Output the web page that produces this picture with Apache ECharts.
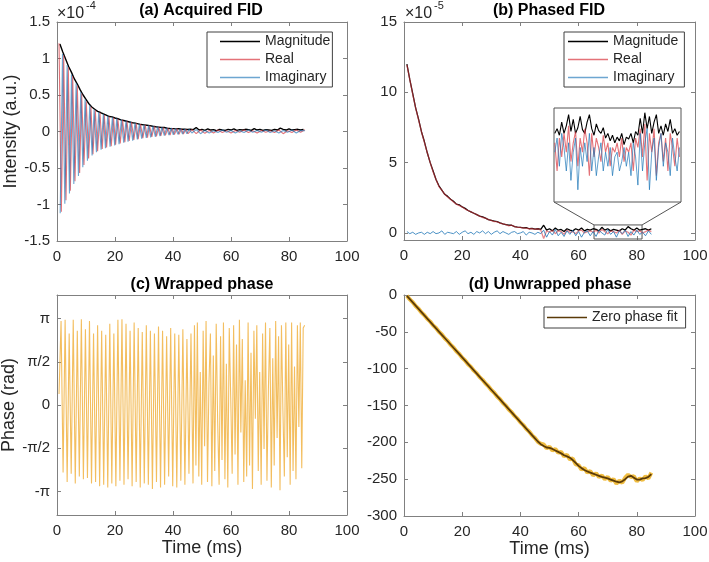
<!DOCTYPE html>
<html>
<head>
<meta charset="utf-8">
<script src="https://cdn.jsdelivr.net/npm/echarts@6/dist/echarts.min.js"></script>
<style>
  html, body { margin: 0; padding: 0; background: #fff; }
  #chart { width: 709px; height: 562px; }
</style>
</head>
<body>
<div id="chart"></div>
<script>
// signal values are in units of 1e-5 a.u., time in ms
// (a) acquired FID: real / imaginary peaks and troughs
const timeReA = [0.7, 1.5, 2.3, 3.1, 3.9, 4.6, 5.4, 6.2, 7.0, 7.8,
  8.5, 9.3, 10.1, 10.9, 11.7, 12.4, 13.2, 14.0, 14.8, 15.6,
  16.3, 17.1, 17.9, 18.7, 19.5, 20.2, 21.0, 21.8, 22.6, 23.4,
  24.1, 24.9, 25.7, 26.5, 27.3, 28.0, 28.8, 29.6, 30.4, 31.2,
  31.9, 32.7, 33.5, 34.3, 35.1, 35.8, 36.6, 37.4, 38.2, 39.0,
  39.7, 40.5, 41.3, 42.1, 42.9, 43.6, 44.4, 45.2];
const realA = [12.1, -11.0, 10.4, -9.4, 8.8, -8.1, 7.6, -6.8, 6.3, -5.7,
  5.2, -4.6, 4.1, -3.7, 3.4, -3.1, 2.9, -2.7, 2.6, -2.4,
  2.3, -2.2, 2.1, -2.0, 1.9, -1.8, 1.75, -1.65, 1.6, -1.45,
  1.45, -1.3, 1.3, -1.15, 1.15, -1.05, 1.0, -0.9, 0.9, -0.85,
  0.8, -0.75, 0.72, -0.68, 0.65, -0.6, 0.57, -0.52, 0.5, -0.48,
  0.45, -0.43, 0.4, -0.38, 0.36, -0.34, 0.32, -0.3];
const timeImA = [1.1, 1.9, 2.7, 3.5, 4.3, 5.0, 5.8, 6.6, 7.4, 8.2,
  8.9, 9.7, 10.5, 11.3, 12.1, 12.8, 13.6, 14.4, 15.2, 16.0,
  16.7, 17.5, 18.3, 19.1, 19.9, 20.6, 21.4, 22.2, 23.0, 23.8,
  24.5, 25.3, 26.1, 26.9, 27.7, 28.4, 29.2, 30.0, 30.8, 31.6,
  32.3, 33.1, 33.9, 34.7, 35.5, 36.2, 37.0, 37.8, 38.6, 39.4,
  40.1, 40.9, 41.7, 42.5, 43.3, 44.0, 44.8, 45.6];
const imagA = [-11.2, 10.6, -9.9, 9.1, -8.5, 7.8, -7.2, 6.6, -6.1, 5.4,
  -4.9, 4.4, -4.0, 3.6, -3.3, 3.0, -2.85, 2.65, -2.5, 2.4,
  -2.3, 2.15, -2.1, 1.95, -1.9, 1.8, -1.75, 1.65, -1.55, 1.5,
  -1.4, 1.35, -1.25, 1.2, -1.1, 1.05, -0.98, 0.92, -0.88, 0.84,
  -0.8, 0.76, -0.72, 0.68, -0.64, 0.6, -0.56, 0.54, -0.5, 0.48,
  -0.45, 0.42, -0.4, 0.38, -0.36, 0.34, -0.32, 0.3];
const timeTailA = [46.5, 48, 49.5, 51, 52.5, 54, 55.5, 57, 58.5, 60,
  61.5, 63, 64.5, 66, 67.5, 69, 70.5, 72, 73.5, 75,
  76.5, 78, 79.5, 81, 82.5, 84, 85.5];
const realTailA = [0.25, -0.3, 0.2, -0.25, 0.15, -0.2, 0.2, -0.15, 0.1, -0.2,
  0.15, -0.1, 0.2, -0.15, 0.1, -0.2, 0.15, -0.1, 0.1, -0.15,
  0.2, -0.3, 0.1, -0.15, 0.2, -0.1, 0.25];
const imagTailA = [-0.2, 0.25, -0.3, 0.15, -0.2, 0.1, -0.15, 0.2, -0.1, 0.15,
  -0.2, 0.1, -0.15, 0.2, -0.1, 0.15, -0.1, 0.2, -0.15, 0.1,
  -0.2, 0.15, -0.1, 0.2, -0.2, 0.15, 0.1];

// magnitude (used in a and b), phased real and imaginary (b)
const timeB = [1, 2, 3, 4, 5, 6, 7, 8, 9, 10,
  11, 12, 13, 14, 15, 16, 17, 18, 19, 20,
  21, 22, 23, 24, 25, 26, 27, 28, 29, 30,
  31, 32, 33, 34, 35, 36, 37, 38, 39, 40,
  41, 42, 43, 44, 45, 46, 47, 48, 49, 50,
  51, 52, 53, 54, 55, 56, 57, 58, 59, 60,
  61, 62, 63, 64, 65, 66, 67, 68, 69, 70,
  71, 72, 73, 74, 75, 76, 77, 78, 79, 80,
  81, 82, 83, 84, 85];
const magnitude = [12.0, 10.9, 9.9, 8.9, 8.1, 7.2, 6.5, 5.7, 5.0, 4.4,
  3.8, 3.35, 3.05, 2.75, 2.6, 2.4, 2.25, 2.05, 2.0, 1.85,
  1.75, 1.6, 1.5, 1.4, 1.3, 1.2, 1.15, 1.05, 0.95, 0.9,
  0.85, 0.8, 0.72, 0.65, 0.6, 0.55, 0.55, 0.45, 0.42, 0.4,
  0.36, 0.38, 0.3, 0.33, 0.27, 0.3, 0.25, 0.55, 0.2, 0.3,
  0.15, 0.35, 0.2, 0.25, 0.1, 0.3, 0.2, 0.15, 0.3, 0.2,
  0.35, 0.15, 0.25, 0.2, 0.3, 0.25, 0.15, 0.4, 0.2, 0.3,
  0.15, 0.25, 0.2, 0.15, 0.3, 0.2, 0.45, 0.3, 0.2, 0.35,
  0.2, 0.25, 0.3, 0.2, 0.3];
const realB = [11.95, 10.9, 9.85, 8.9, 8.05, 7.2, 6.45, 5.7, 5.0, 4.35,
  3.8, 3.3, 3.05, 2.75, 2.55, 2.4, 2.2, 2.05, 1.95, 1.85,
  1.7, 1.6, 1.5, 1.4, 1.3, 1.2, 1.1, 1.05, 0.95, 0.9,
  0.8, 0.8, 0.7, 0.65, 0.6, 0.5, 0.55, 0.45, 0.4, 0.4,
  0.35, 0.35, 0.3, 0.3, 0.25, 0.3, 0.2, -0.4, 0.15, 0.05,
  0.2, -0.05, 0.15, 0.1, -0.1, 0.2, 0.05, 0.1, -0.05, 0.15,
  0.2, 0.0, 0.1, 0.15, 0.05, 0.2, 0.0, 0.25, 0.1, -0.05,
  0.15, 0.1, 0.0, 0.2, -0.1, 0.15, 0.05, -0.15, 0.2, 0.1,
  0.15, 0.0, 0.1, 0.2, 0.1];
const imagB = [0.1, -0.05, 0.05, -0.1, 0.0, 0.05, -0.1, 0.05, -0.05, 0.1,
  -0.05, 0.0, 0.15, -0.1, 0.05, 0.0, -0.05, 0.1, -0.1, 0.05,
  0.15, -0.05, 0.05, -0.1, 0.1, 0.0, 0.15, -0.05, 0.1, -0.1,
  0.05, 0.15, -0.05, 0.1, 0.0, -0.1, 0.05, 0.1, -0.05, 0.0,
  0.1, -0.15, 0.05, 0.0, -0.1, 0.05, -0.05, 0.2, -0.3, 0.1,
  -0.15, 0.25, -0.2, 0.05, -0.25, 0.15, -0.1, 0.2, -0.2, 0.1,
  -0.3, 0.05, 0.15, -0.2, 0.1, -0.25, 0.2, 0.0, -0.15, 0.25,
  -0.1, 0.1, -0.3, 0.15, -0.05, 0.2, -0.25, 0.1, -0.15, 0.2,
  -0.1, 0.05, -0.2, 0.15, -0.1];

// zoomed window shown in the inset of (b)
const zoomX = [65.3, 81.8];
const zoomY = [-0.43, 0.57];
const timeInset = [65.4, 65.7, 66.0, 66.3, 66.6, 66.9, 67.2, 67.5, 67.8, 68.1,
  68.4, 68.7, 69.0, 69.3, 69.6, 69.9, 70.2, 70.5, 70.8, 71.1,
  71.4, 71.7, 72.0, 72.3, 72.6, 72.9, 73.2, 73.5, 73.8, 74.1,
  74.4, 74.7, 75.0, 75.3, 75.6, 75.9, 76.2, 76.5, 76.8, 77.1,
  77.4, 77.7, 78.0, 78.3, 78.6, 78.9, 79.2, 79.5, 79.8, 80.1,
  80.4, 80.7, 81.0, 81.3, 81.6];
const insetMag = [0.3, 0.35, 0.28, 0.42, 0.3, 0.38, 0.5, 0.32, 0.45, 0.3,
  0.36, 0.48, 0.34, 0.3, 0.42, 0.5, 0.35, 0.28, 0.4, 0.33,
  0.3, 0.36, 0.25, 0.3, 0.22, 0.28, 0.2, 0.26, 0.22, 0.3,
  0.18, 0.26, 0.24, 0.3, 0.2, 0.32, 0.28, 0.46, 0.3, 0.52,
  0.35, 0.48, 0.3, 0.42, 0.5, 0.3, 0.38, 0.28, 0.4, 0.32,
  0.45, 0.3, 0.35, 0.28, 0.32];
const insetReal = [0.2, -0.1, 0.25, 0.05, 0.3, 0.1, 0.38, 0.0, 0.2, 0.32,
  -0.05, 0.25, 0.1, 0.35, 0.2, -0.15, 0.3, 0.05, 0.25, 0.15,
  0.0, 0.28, 0.1, 0.2, -0.05, 0.15, 0.1, 0.2, 0.05, 0.25,
  0.0, 0.15, 0.1, 0.2, -0.1, 0.25, 0.15, 0.35, 0.05, 0.4,
  -0.2, 0.3, 0.1, 0.35, -0.15, 0.2, 0.3, 0.0, 0.25, -0.1,
  0.3, 0.15, -0.05, 0.25, 0.05];
const insetImag = [0.1, 0.25, -0.05, 0.3, 0.15, -0.1, 0.2, -0.2, 0.1, 0.25,
  -0.3, 0.15, -0.05, 0.2, 0.0, 0.3, -0.1, 0.15, -0.15, 0.05,
  0.2, -0.1, 0.1, -0.05, 0.15, -0.15, 0.05, 0.1, -0.1, 0.0,
  0.15, -0.05, 0.1, -0.15, 0.2, 0.05, -0.25, 0.3, -0.1, 0.2,
  0.35, -0.3, 0.1, 0.25, -0.2, 0.15, 0.3, -0.05, 0.2, 0.1,
  -0.15, 0.25, 0.05, -0.1, 0.15];

// (c) wrapped phase, rad
const timeC = [0.7, 1.4, 2.1, 2.8, 3.5, 4.2, 4.9, 5.6, 6.3, 7.0,
  7.7, 8.4, 9.1, 9.8, 10.5, 11.2, 11.9, 12.6, 13.3, 14.0,
  14.7, 15.4, 16.1, 16.8, 17.5, 18.2, 18.9, 19.6, 20.3, 21.0,
  21.7, 22.4, 23.1, 23.8, 24.5, 25.2, 25.9, 26.6, 27.3, 28.0,
  28.7, 29.4, 30.1, 30.8, 31.5, 32.2, 32.9, 33.6, 34.3, 35.0,
  35.7, 36.4, 37.1, 37.8, 38.5, 39.2, 39.9, 40.6, 41.3, 42.0,
  42.7, 43.4, 44.1, 44.8, 45.5, 46.2, 46.9,
  47.4, 47.9, 48.4, 48.9, 49.4, 49.9, 50.4, 50.9, 51.4, 51.9,
  52.4, 52.9, 53.4, 53.9, 54.4, 54.9, 55.4, 55.9, 56.4, 56.9,
  57.4, 57.9, 58.4, 58.9, 59.4, 59.9, 60.4, 60.9, 61.4, 61.9,
  62.4, 62.9, 63.4, 63.9, 64.4, 64.9, 65.4, 65.9, 66.4, 66.9,
  67.4, 67.9, 68.4, 68.9, 69.4, 69.9, 70.4, 70.9, 71.4, 71.9,
  72.4, 72.9, 73.4, 73.9, 74.4, 74.9, 75.4, 75.9, 76.4, 76.9,
  77.4, 77.9, 78.4, 78.9, 79.4, 79.9, 80.4, 80.9, 81.4, 81.9,
  82.4, 82.9, 83.4, 83.9, 84.4, 84.9, 85.4];
const phaseC = [0.4, 3.05, -2.45, 3.1, -2.8, 2.6, -2.5, 3.1, -2.85, 2.7,
  -2.6, 3.12, -2.7, 2.75, -2.65, 3.05, -2.85, 2.6, -2.8, 2.9,
  -2.95, 2.7, -2.9, 2.55, -3.0, 2.95, -2.85, 2.6, -2.95, 3.1,
  -2.75, 3.12, -2.9, 2.95, -2.7, 2.7, -2.95, 3.0, -2.8, 2.8,
  -3.0, 2.65, -2.85, 2.9, -2.9, 2.7, -3.05, 2.6, -2.8, 2.85,
  -3.0, 2.7, -2.9, 2.5, -2.6, 2.8, -2.95, 2.6, -3.0, 2.55,
  -2.75, 2.75, -2.9, 2.4, -2.5, 2.6, -2.85,
  2.9, -2.2, 3.0, -2.6, 1.2, -2.9, 2.7, -1.5, 3.05, -2.8,
  0.8, 2.6, -2.95, 1.8, -2.4, 2.95, -0.6, -2.9, 2.5, -2.0,
  3.0, -2.7, 1.5, -3.0, 2.8, 0.3, -2.5, 2.9, -1.8, 2.2,
  -2.9, 3.1, -1.0, 2.4, -2.8, 0.9, -2.6, 3.0, -2.2, 1.9,
  -3.05, 2.7, -0.5, 2.9, -2.4, 1.2, -2.9, 2.6, -1.6, 3.0,
  -2.75, 0.6, 2.8, -3.0, 1.7, -2.2, 3.05, -1.2, 2.5, -3.1,
  2.9, -0.2, -2.6, 3.0, -1.9, 2.2, -2.9, 3.0, -2.4, 1.4,
  -2.7, 2.9, -0.8, 3.0, -2.3, 2.8, 2.9];
const phaseTickValues = [-3.1416, -1.5708, 0, 1.5708, 3.1416];
const phaseTickLabels = ['-π', '-π/2', '0', 'π/2', 'π'];

// (d) unwrapped phase and zero phase fit, rad (same time base as b)
const unwrapped = [-1.0, -6.0, -9.8, -14.9, -18.6, -23.7, -27.4, -32.4, -36.1, -41.2,
  -44.9, -50.0, -53.7, -58.8, -62.5, -67.6, -71.3, -76.3, -80.0, -85.1,
  -88.8, -93.9, -97.6, -102.7, -106.4, -111.5, -115.2, -120.2, -123.9, -129.0,
  -132.7, -137.8, -141.5, -146.6, -150.3, -155.4, -159.1, -164.1, -167.8, -172.9,
  -176.6, -181.7, -185.4, -190.5, -194.2, -199.3, -202.0, -203, -208, -206,
  -211, -209, -214, -213, -219, -217, -223, -222, -230, -231,
  -237, -235, -241, -239, -245, -242, -247, -245, -250, -247,
  -252, -250, -256, -252, -255, -248, -244, -247, -246, -253,
  -249, -251, -246, -249, -241];
const phaseFit = [-1.3, -5.7, -10.1, -14.5, -18.9, -23.3, -27.7, -32.0, -36.4, -40.8,
  -45.2, -49.6, -54.0, -58.4, -62.8, -67.2, -71.6, -75.9, -80.3, -84.7,
  -89.1, -93.5, -97.9, -102.3, -106.7, -111.1, -115.5, -119.8, -124.2, -128.6,
  -133.0, -137.4, -141.8, -146.2, -150.6, -155.0, -159.4, -163.7, -168.1, -172.5,
  -176.9, -181.3, -185.7, -190.1, -194.5, -198.9, -202.5, -205, -207, -207.5,
  -209, -211, -213, -215, -217.5, -219, -221, -224, -228, -232,
  -235, -237.5, -239.5, -241, -242.5, -244, -245.5, -247, -248, -249,
  -250.5, -252, -253.5, -254.5, -253, -250, -246.5, -245.5, -248, -250.5,
  -250.5, -249, -248.5, -247, -243];

const FONT = '"Liberation Sans", Arial, Helvetica, sans-serif';
const AXIS_COLOR = '#808080';
const LABEL_COLOR = '#262626';
const RED = '#d9363e';
const BLUE = '#1f77b8';

function zip(xs, ys) {
  return xs.map((x, i) => [x, ys[i]]);
}

// bottom + top x axis for one panel, ticks inside like matlab
function xPair(grid, name) {
  const common = {
    type: 'value', gridIndex: grid, min: 0, max: 100, interval: 20,
    splitLine: { show: false },
    axisLine: { show: true, onZero: false, lineStyle: { color: AXIS_COLOR, width: 1 } },
    axisTick: { show: true, inside: true, length: 4, lineStyle: { color: AXIS_COLOR } }
  };
  const bottom = Object.assign({}, common, {
    position: 'bottom',
    axisLabel: { color: LABEL_COLOR, fontSize: 15, fontFamily: FONT, margin: 8, showMinLabel: true, showMaxLabel: true }
  });
  if (name) {
    Object.assign(bottom, {
      name: name, nameLocation: 'middle', nameGap: 22,
      nameTextStyle: { fontSize: 18, color: LABEL_COLOR, fontFamily: FONT }
    });
  }
  const top = Object.assign({}, common, { position: 'top', axisLabel: { show: false } });
  return [bottom, top];
}

// left + right y axis
function yPair(grid, o) {
  const tick = { show: true, inside: true, length: 4, lineStyle: { color: AXIS_COLOR } };
  if (o.ticks) tick.customValues = o.ticks;
  const common = {
    type: 'value', gridIndex: grid, min: o.min, max: o.max,
    splitLine: { show: false },
    axisLine: { show: true, onZero: false, lineStyle: { color: AXIS_COLOR, width: 1 } },
    axisTick: tick
  };
  if (o.interval) common.interval = o.interval;
  const label = { color: LABEL_COLOR, fontSize: 15, fontFamily: FONT, margin: 7, showMinLabel: true, showMaxLabel: true };
  if (o.ticks) label.customValues = o.ticks;
  if (o.formatter) label.formatter = o.formatter;
  const left = Object.assign({}, common, { position: 'left', axisLabel: label });
  if (o.name) {
    Object.assign(left, {
      name: o.name, nameLocation: 'middle', nameGap: 37,
      nameTextStyle: { fontSize: 18, color: LABEL_COLOR, fontFamily: FONT }
    });
  }
  const right = Object.assign({}, common, { position: 'right', axisLabel: { show: false } });
  return [left, right];
}

function legendBox(left, top, names, padding) {
  return {
    left: left, top: top, orient: 'vertical', selectedMode: false,
    icon: 'rect', itemWidth: 40, itemHeight: 1.6, itemGap: 1, padding: padding,
    borderColor: '#404040', borderWidth: 1, backgroundColor: '#fff',
    textStyle: { fontSize: 14, color: LABEL_COLOR, fontFamily: FONT, lineHeight: 17 },
    data: names
  };
}

function textEl(id, x, y, text, size, weight, align) {
  return {
    type: 'text', id: id, x: x, y: y, silent: true,
    style: {
      text: text, fill: weight === 'bold' ? '#000' : LABEL_COLOR,
      font: (weight || 'normal') + ' ' + size + 'px ' + FONT,
      textAlign: align || 'left', align: align || 'left',
      textVerticalAlign: 'middle', verticalAlign: 'middle'
    }
  };
}

function lineSeries(name, xi, data, color, width, opacity, extra) {
  return Object.assign({
    name: name, type: 'line', xAxisIndex: xi, yAxisIndex: xi, data: data,
    symbol: 'none', showSymbol: false, animation: false,
    lineStyle: { color: color, width: width, opacity: opacity },
    itemStyle: { color: color, opacity: opacity }
  }, extra || {});
}

const chart = echarts.init(document.getElementById('chart'), null, { renderer: 'canvas' });

const xAxes = [].concat(xPair(0), xPair(1), xPair(2, 'Time (ms)'), xPair(3, 'Time (ms)'),
  [{ type: 'value', gridIndex: 4, min: zoomX[0], max: zoomX[1], show: false }]);
const yAxes = [].concat(
  yPair(0, { min: -15, max: 15, interval: 5, name: 'Intensity (a.u.)', formatter: v => String(v / 10) }),
  yPair(1, { min: -0.5, max: 15, ticks: [0, 5, 10, 15] }),
  yPair(2, {
    min: -4, max: 4, ticks: phaseTickValues, name: 'Phase (rad)',
    formatter: v => {
      const i = phaseTickValues.findIndex(p => Math.abs(p - v) < 1e-3);
      return i >= 0 ? phaseTickLabels[i] : '';
    }
  }),
  yPair(3, { min: -300, max: 0, interval: 50 }),
  [{ type: 'value', gridIndex: 4, min: zoomY[0], max: zoomY[1], show: false }]);

const option = {
  animation: false,
  backgroundColor: '#fff',
  textStyle: { fontFamily: FONT },
  grid: [
    { left: 57, top: 22, width: 290, height: 219, outerBoundsMode: 'none' },
    { left: 404, top: 22, width: 291, height: 218, outerBoundsMode: 'none' },
    { left: 57, top: 295, width: 290, height: 220, outerBoundsMode: 'none' },
    { left: 404, top: 295, width: 291, height: 221, outerBoundsMode: 'none' },
    { left: 554, top: 108, width: 127, height: 94, show: true, backgroundColor: '#fff',
      borderColor: '#555', borderWidth: 1, outerBoundsMode: 'none', z: 5 }
  ],
  xAxis: xAxes,
  yAxis: yAxes,
  legend: [
    legendBox(207, 32, ['Magnitude', 'Real', 'Imaginary'], [1, 2, 1, 13]),
    legendBox(564, 32, ['Magnitude', 'Real', 'Imaginary'], [1, 6, 1, 4]),
    legendBox(544, 307, ['Zero phase fit'], [2, 8, 2, 3])
  ],
  series: [
    // (a)
    lineSeries('Magnitude', 0, zip(timeB, magnitude), '#000', 1.4, 1),
    lineSeries('Real', 0, zip(timeReA.concat(timeTailA), realA.concat(realTailA)), RED, 1.1, 0.7),
    lineSeries('Imaginary', 0, zip(timeImA.concat(timeTailA), imagA.concat(imagTailA)), BLUE, 1.1, 0.65),
    // (b)
    lineSeries('Magnitude', 2, zip(timeB, magnitude), '#000', 1.3, 1, {
      markArea: {
        silent: true,
        itemStyle: { color: 'rgba(0,0,0,0)', borderColor: '#555', borderWidth: 1 },
        data: [[{ coord: [zoomX[0], zoomY[0]] }, { coord: [zoomX[1], zoomY[1]] }]]
      }
    }),
    lineSeries('Real', 2, zip(timeB, realB), RED, 1.3, 0.6),
    lineSeries('Imaginary', 2, zip(timeB, imagB), BLUE, 1, 0.8),
    // (c)
    lineSeries('Wrapped phase', 4, zip(timeC, phaseC), '#efa82a', 1.1, 0.75),
    // (d)
    lineSeries('Unwrapped phase', 6, zip(timeB, unwrapped), '#edb120', 4, 0.85),
    lineSeries('Zero phase fit', 6, zip(timeB, phaseFit), '#5a3a08', 1.8, 1),
    // inset
    lineSeries('Magnitude', 8, zip(timeInset, insetMag), '#000', 1.1, 1, { z: 6 }),
    lineSeries('Real', 8, zip(timeInset, insetReal), RED, 1.1, 0.7, { z: 6 }),
    lineSeries('Imaginary', 8, zip(timeInset, insetImag), BLUE, 1, 0.7, { z: 6 })
  ],
  graphic: [
    textEl('tA', 201, 11, '(a) Acquired FID', 16, 'bold', 'center'),
    textEl('tB', 549, 11, '(b) Phased FID', 16, 'bold', 'center'),
    textEl('tC', 202, 285, '(c) Wrapped phase', 16, 'bold', 'center'),
    textEl('tD', 550, 285, '(d) Unwrapped phase', 16, 'bold', 'center'),
    textEl('eA', 57, 14, '×10', 16),
    textEl('eA2', 86, 6, '-4', 11),
    textEl('eB', 405, 14, '×10', 16),
    textEl('eB2', 434, 6, '-5', 11)
  ]
};

chart.setOption(option);

// connector lines from the inset to the zoom box
const boxTL = chart.convertToPixel({ xAxisIndex: 2, yAxisIndex: 2 }, [zoomX[0], zoomY[1]]);
const boxTR = chart.convertToPixel({ xAxisIndex: 2, yAxisIndex: 2 }, [zoomX[1], zoomY[1]]);
const insBL = chart.convertToPixel({ xAxisIndex: 8, yAxisIndex: 8 }, [zoomX[0], zoomY[0]]);
const insBR = chart.convertToPixel({ xAxisIndex: 8, yAxisIndex: 8 }, [zoomX[1], zoomY[0]]);
chart.setOption({
  graphic: [
    { type: 'line', id: 'c1', silent: true, shape: { x1: insBL[0], y1: insBL[1], x2: boxTL[0], y2: boxTL[1] },
      style: { stroke: '#555', lineWidth: 1 } },
    { type: 'line', id: 'c2', silent: true, shape: { x1: insBR[0], y1: insBR[1], x2: boxTR[0], y2: boxTR[1] },
      style: { stroke: '#555', lineWidth: 1 } }
  ]
});
</script>
</body>
</html>
